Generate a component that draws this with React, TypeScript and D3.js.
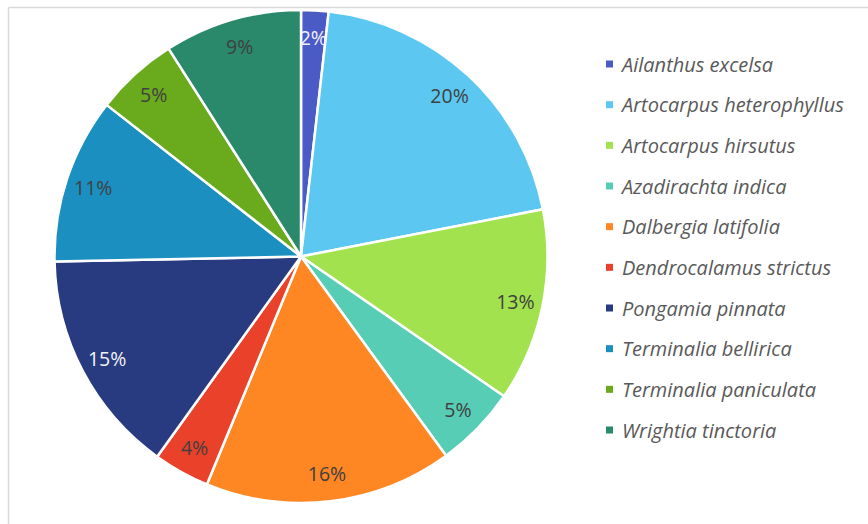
import React from "react";
import * as d3 from "d3";

const categories = [
  "Ailanthus excelsa",
  "Artocarpus heterophyllus",
  "Artocarpus hirsutus",
  "Azadirachta indica",
  "Dalbergia latifolia",
  "Dendrocalamus strictus",
  "Pongamia pinnata",
  "Terminalia bellirica",
  "Terminalia paniculata",
  "Wrightia tinctoria",
];
const values = [1.8, 20.2, 12.7, 5.4, 16.3, 3.7, 14.8, 10.9, 5.45, 9.05];
const colors = [
  "#4A5BC6",
  "#5CC8F2",
  "#A3E24F",
  "#57CDB5",
  "#FE8724",
  "#E9412A",
  "#283B80",
  "#1A8FC0",
  "#6AAB1D",
  "#2A896B",
];
const labelColors = ["#F2F2FF", "#404040", "#404040", "#404040", "#404040", "#404040", "#F2F2F2", "#404040", "#404040", "#404040"];

const W = 868;
const H = 524;
const cx = 301;
const cy = 256.5;
const R = 246.5;
const labelR = 219;
const FONT = "'Open Sans', Lato, sans-serif";

export default function App() {
  const total = d3.sum(values);
  const pie = d3.pie<number>().sort(null).value((d) => d)(values);
  const arc = d3.arc<d3.PieArcDatum<number>>().innerRadius(0).outerRadius(R);
  const legendY = d3.scaleLinear().domain([0, categories.length - 1]).range([64, 430]);

  return (
    <svg width={W} height={H} style={{ position: "absolute", left: 0, top: 0, background: "#fff" }}>
      <line x1={8.5} y1={7.5} x2={W} y2={7.5} stroke="#d9d9d9" strokeWidth={1.5} />
      <line x1={8.5} y1={7.5} x2={8.5} y2={H} stroke="#d9d9d9" strokeWidth={1.5} />
      <g transform={`translate(${cx},${cy})`}>
        {pie.map((p, i) => (
          <path key={i} d={arc(p) || ""} fill={colors[i]} stroke="#fff" strokeWidth={2.5} strokeLinejoin="round" />
        ))}
        {pie.map((p, i) => {
          const a = (p.startAngle + p.endAngle) / 2;
          const x = labelR * Math.sin(a);
          const y = -labelR * Math.cos(a);
          return (
            <text
              key={i}
              x={x}
              y={y}
              textAnchor="middle"
              dominantBaseline="central"
              fontFamily={FONT}
              fontSize={19.5}
              fill={labelColors[i]}
            >
              {`${Math.round((values[i] / total) * 100)}%`}
            </text>
          );
        })}
      </g>
      <g>
        {categories.map((c, i) => (
          <g key={c} transform={`translate(606,${legendY(i)})`}>
            <rect x={0} y={-3.5} width={7} height={7} fill={colors[i]} />
            <text
              x={16}
              y={0}
              dominantBaseline="central"
              fontFamily={FONT}
              fontStyle="italic"
              fontSize={20}
              fill="#595959"
            >
              {c}
            </text>
          </g>
        ))}
      </g>
    </svg>
  );
}
